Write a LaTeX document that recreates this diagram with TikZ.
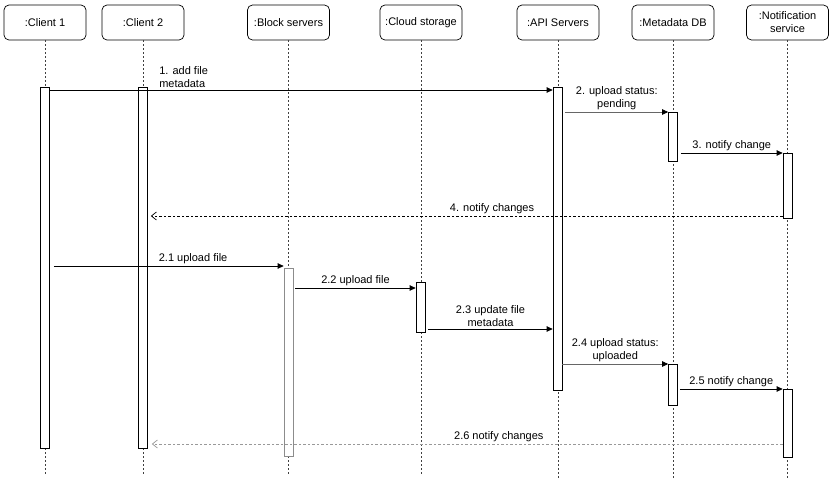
\documentclass[tikz,border=0pt]{standalone}
\usepackage{fontspec}
\setmainfont{Liberation Sans}
\usetikzlibrary{arrows.meta}
\begin{document}
\begin{tikzpicture}[x=1pt,y=-1pt,
  head/.style={draw, rounded corners=5pt, minimum width=82pt, minimum height=35pt, align=center, font=\fontsize{11}{13}\selectfont, line width=0.7pt, inner sep=1pt},
  lifeline/.style={dash pattern=on 2pt off 2pt, line width=0.7pt, black!75},
  bar/.style={draw, fill=white, minimum width=9pt, anchor=north, inner sep=0pt, line width=0.7pt},
  msg/.style={-{Triangle[length=6pt,width=5.5pt,color=black]}, line width=0.7pt},
  ret/.style={-{Straight Barb[length=5pt,width=8pt]}, dash pattern=on 2.5pt off 2pt, line width=0.7pt},
  lbl/.style={font=\fontsize{11}{13}\selectfont, align=center, inner sep=1pt, above=1pt}
]
\useasboundingbox (0,0) rectangle (833,483);
\fill[white] (0,0) rectangle (833,483);

% headers
\node[head] (c1) at (45,22.5) {:Client 1};
\node[head] (c2) at (143,22.5) {:Client 2};
\node[head] (bs) at (288.5,22.5) {:Block servers};
\node[head] (cs) at (421,22.5) {:Cloud storage};
\node[head] (api) at (558,22.5) {:API Servers};
\node[head] (mdb) at (673,22.5) {:Metadata DB};
\node[head] (ns) at (787.5,22.5) {:Notification\\service};

% lifelines
\foreach \n/\e in {c1/474,c2/474,bs/474,cs/474,api/478,mdb/478,ns/478}
  \draw[lifeline] (\n.south) -- (\n.south |- 0,\e);

% activation bars
\node[bar, minimum height=361pt] (c1bar) at (45,87) {};
\node[bar, minimum height=361pt] (c2bar) at (143,87) {};
\node[bar, minimum height=188pt, draw=black!45] (bsbar) at (288.5,268) {};
\node[bar, minimum height=50pt] (csbar) at (420.5,282) {};
\node[bar, minimum height=303pt] (apibar) at (557.5,87) {};
\node[bar, minimum height=49pt] (mdbbar1) at (673,112) {};
\node[bar, minimum height=65pt] (nsbar1) at (787.5,153) {};
\node[bar, minimum height=41pt] (mdbbar2) at (673,364) {};
\node[bar, minimum height=68pt] (nsbar2) at (787.5,389) {};

% messages
\draw[msg] (c1bar.east |- 0,90) -- node[lbl, pos=0.215, anchor=south west, align=left] {1. add file\\metadata} (apibar.west |- 0,90);
\draw[msg, black!60] ([xshift=3pt]apibar.east |- 0,112) -- node[lbl, text=black] {2. upload status:\\pending} (mdbbar1.west |- 0,112);
\draw[msg] ([xshift=3pt]mdbbar1.east |- 0,153) -- node[lbl] {3. notify change} (nsbar1.west |- 0,153);
\draw[ret] (nsbar1.west |- 0,216) -- node[lbl, pos=0.46] {4. notify changes} ([xshift=3pt]c2bar.east |- 0,216);

\draw[msg] ([xshift=4pt]c1bar.east |- 0,266) -- node[lbl, pos=0.606] {2.1 upload file} (bsbar.west |- 0,266);
\draw[msg] ([xshift=2pt]bsbar.east |- 0,288) -- node[lbl] {2.2 upload file} (csbar.west |- 0,288);
\draw[msg] ([xshift=3pt]csbar.east |- 0,329) -- node[lbl] {2.3 update file\\metadata} (apibar.west |- 0,329);
\draw[msg, black!60] (apibar.east |- 0,364) -- node[lbl, text=black] {2.4 upload status:\\uploaded} (mdbbar2.west |- 0,364);
\draw[msg] ([xshift=2pt]mdbbar2.east |- 0,389) -- node[lbl] {2.5 notify change} (nsbar2.west |- 0,389);
\draw[ret, black!40] (nsbar2.west |- 0,444) -- node[lbl, pos=0.45, text=black] {2.6 notify changes} ([xshift=4pt]c2bar.east |- 0,444);
\end{tikzpicture}
\end{document}
